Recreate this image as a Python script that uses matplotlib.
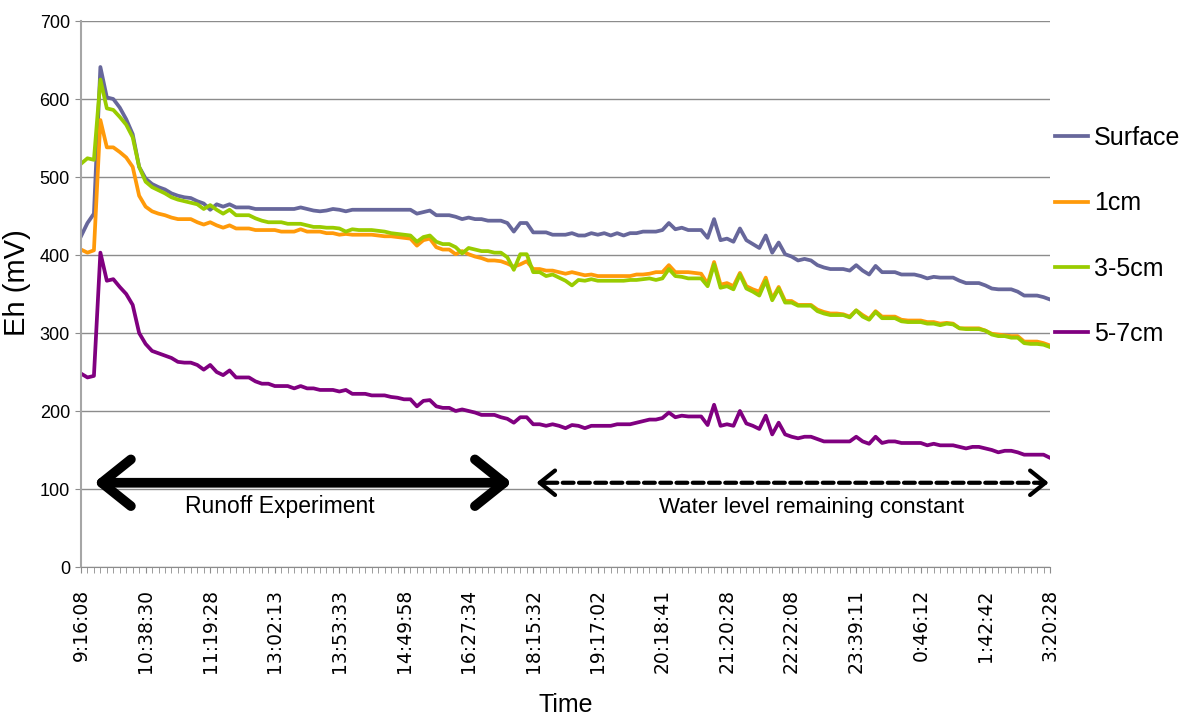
import numpy as np
import matplotlib
matplotlib.use('Agg')
import matplotlib.pyplot as plt

# Eh readings (mV), one value per logged time step
surface = [424, 441, 453, 641, 602, 600, 589, 574, 555, 513,
           498, 491, 487, 484, 479, 476, 474, 473, 469, 466,
           458, 465, 462, 465, 461, 461, 461, 459, 459, 459,
           459, 459, 459, 459, 461, 459, 457, 456, 457, 459,
           458, 456, 458, 458, 458, 458, 458, 458, 458, 458,
           458, 458, 453, 455, 457, 451, 451, 451, 449, 446,
           448, 446, 446, 444, 444, 444, 441, 430, 441, 441,
           429, 429, 429, 426, 426, 426, 428, 425, 425, 428,
           426, 428, 425, 428, 425, 428, 428, 430, 430, 430,
           432, 441, 433, 435, 432, 432, 432, 422, 446, 419,
           421, 417, 434, 419, 414, 409, 425, 403, 416, 401,
           398, 393, 395, 393, 387, 384, 382, 382, 382, 380,
           387, 380, 375, 386, 378, 378, 378, 375, 375, 375,
           373, 370, 372, 371, 371, 371, 367, 364, 364, 364,
           361, 357, 356, 356, 356, 353, 348, 348, 348, 346,
           343]
cm1 = [407, 403, 406, 573, 538, 538, 532, 525, 513, 476,
       462, 456, 453, 451, 448, 446, 446, 446, 442, 439,
       442, 438, 435, 438, 434, 434, 434, 432, 432, 432,
       432, 430, 430, 430, 433, 430, 430, 430, 428, 428,
       426, 427, 426, 426, 426, 426, 425, 424, 424, 423,
       422, 421, 412, 419, 421, 410, 407, 407, 401, 405,
       401, 398, 396, 393, 393, 392, 389, 385, 388, 392,
       382, 382, 380, 380, 378, 376, 378, 376, 374, 375,
       373, 373, 373, 373, 373, 373, 375, 375, 376, 378,
       378, 387, 378, 378, 378, 377, 376, 363, 391, 362,
       364, 360, 377, 360, 356, 353, 371, 344, 359, 341,
       341, 336, 336, 336, 330, 327, 325, 325, 324, 321,
       329, 323, 318, 328, 321, 321, 321, 317, 316, 316,
       316, 314, 314, 312, 313, 312, 306, 306, 306, 306,
       303, 299, 298, 297, 296, 296, 289, 289, 289, 287,
       284]
cm3_5 = [517, 524, 522, 625, 588, 586, 577, 567, 551, 513,
         494, 487, 483, 479, 474, 471, 469, 467, 465, 459,
         464, 458, 453, 458, 451, 451, 451, 447, 444, 442,
         442, 442, 440, 440, 440, 438, 436, 436, 435, 435,
         434, 430, 433, 432, 432, 432, 431, 430, 428, 427,
         426, 425, 417, 423, 425, 417, 414, 414, 410, 402,
         409, 407, 405, 405, 403, 403, 397, 381, 401, 401,
         378, 378, 373, 375, 371, 367, 361, 368, 367, 369,
         367, 367, 367, 367, 367, 368, 368, 369, 370, 368,
         370, 382, 373, 372, 370, 370, 370, 360, 388, 358,
         360, 356, 375, 357, 353, 348, 367, 342, 357, 339,
         339, 335, 335, 335, 328, 325, 323, 323, 323, 320,
         329, 321, 317, 327, 319, 319, 319, 315, 314, 314,
         314, 312, 312, 310, 312, 311, 306, 305, 305, 305,
         303, 298, 296, 296, 294, 294, 287, 286, 286, 285,
         282]
cm5_7 = [248, 243, 245, 403, 367, 369, 359, 350, 336, 300,
         286, 277, 274, 271, 268, 263, 262, 262, 259, 253,
         259, 250, 246, 252, 243, 243, 243, 238, 235, 235,
         232, 232, 232, 229, 232, 229, 229, 227, 227, 227,
         225, 227, 222, 222, 222, 220, 220, 220, 218, 217,
         215, 215, 206, 213, 214, 206, 204, 204, 200, 202,
         200, 198, 195, 195, 195, 192, 190, 185, 192, 192,
         183, 183, 181, 183, 181, 178, 182, 181, 178, 181,
         181, 181, 181, 183, 183, 183, 185, 187, 189, 189,
         191, 198, 192, 194, 193, 193, 193, 182, 208, 181,
         183, 181, 200, 184, 181, 177, 194, 170, 185, 170,
         167, 165, 167, 167, 164, 161, 161, 161, 161, 161,
         167, 161, 158, 167, 159, 161, 161, 159, 159, 159,
         159, 156, 158, 156, 156, 156, 154, 152, 154, 154,
         152, 150, 147, 149, 149, 147, 144, 144, 144, 144,
         140]

series_names = ['Surface', '1cm', '3-5cm', '5-7cm']
series_colors = ['#67679b', '#ff9a0a', '#99cc00', '#800080']

time_labels = ['9:16:08', '10:38:30', '11:19:28', '13:02:13', '13:53:33',
               '14:49:58', '16:27:34', '18:15:32', '19:17:02', '20:18:41',
               '21:20:28', '22:22:08', '23:39:11', '0:46:12', '1:42:42',
               '3:20:28']
label_step = 10

# arrow spans (in time-step units) and the annotation height (mV)
runoff_span = (2.0, 66.7)
constant_span = (70.5, 149.8)
arrow_level = 108

plt.rcParams['font.family'] = ['Liberation Sans', 'DejaVu Sans']

fig = plt.figure(figsize=(11.9, 7.21), dpi=100)
ax = fig.add_axes([81/1190, 1 - 567/721, (1050 - 81)/1190, (567 - 21)/721])

x = np.arange(len(surface))
for vals, name, col in zip([surface, cm1, cm3_5, cm5_7], series_names, series_colors):
    ax.plot(x, vals, color=col, lw=2.7, label=name, solid_joinstyle='round')

ax.set_xlim(0, len(surface) - 1)
ax.set_ylim(0, 700)
ax.set_yticks(range(0, 701, 100))
ax.yaxis.grid(True, color='#8c8c8c', lw=1)
ax.set_axisbelow(True)
for s in ['top', 'right']:
    ax.spines[s].set_visible(False)
ax.spines['left'].set_color('#a6a6a6')
ax.spines['bottom'].set_color('#8c8c8c')
ax.spines['left'].set_linewidth(1.5)

ax.set_xticks(x, minor=True)
ax.set_xticks(x[::label_step])
ax.set_xticklabels(time_labels, rotation=90, fontsize=13.5, family='DejaVu Sans')
ax.tick_params(axis='x', which='both', length=4, color='#8c8c8c', pad=12)
ax.tick_params(axis='y', length=4, color='#8c8c8c', labelsize=13, pad=4)

ax.set_ylabel('Eh (mV)', fontsize=21)
ax.yaxis.set_label_coords(-0.052, 0.52)
ax.set_xlabel('Time', fontsize=18, labelpad=14)

# solid double arrow
ax.annotate('', xy=(runoff_span[0], arrow_level), xytext=(runoff_span[1], arrow_level),
            arrowprops=dict(arrowstyle='<->,head_length=0.6,head_width=0.48',
                            lw=7, color='black', mutation_scale=35,
                            shrinkA=0, shrinkB=0, capstyle='round', joinstyle='round'))
ax.text(np.mean(runoff_span) - 3.5, arrow_level - 31, 'Runoff Experiment',
        ha='center', va='center', fontsize=16.5)

# dashed double arrow: dashed shaft, solid heads
ax.annotate('', xy=(constant_span[0] + 0.6, arrow_level), xytext=(constant_span[1] - 0.6, arrow_level),
            arrowprops=dict(arrowstyle='-', lw=3, color='black', linestyle=(0, (2.6, 1.3)),
                            shrinkA=0, shrinkB=0))
for tip, back in [(constant_span[0], constant_span[0] + 1.5), (constant_span[1], constant_span[1] - 1.5)]:
    ax.annotate('', xy=(tip, arrow_level), xytext=(back, arrow_level),
                arrowprops=dict(arrowstyle='->,head_length=0.5,head_width=0.4',
                                lw=3, color='black', mutation_scale=22,
                                shrinkA=0, shrinkB=0, capstyle='round', joinstyle='round'))
ax.text(np.mean(constant_span) + 2.9, arrow_level - 32, 'Water level remaining constant',
        ha='center', va='center', fontsize=16)

fig.legend(loc='upper left', bbox_to_anchor=(1055/1190, 1 - 126/721), frameon=False,
           fontsize=18, handlelength=1.3, handletextpad=0.25, labelspacing=1.65,
           borderpad=0, borderaxespad=0)

fig.savefig('out.png', dpi=100)
